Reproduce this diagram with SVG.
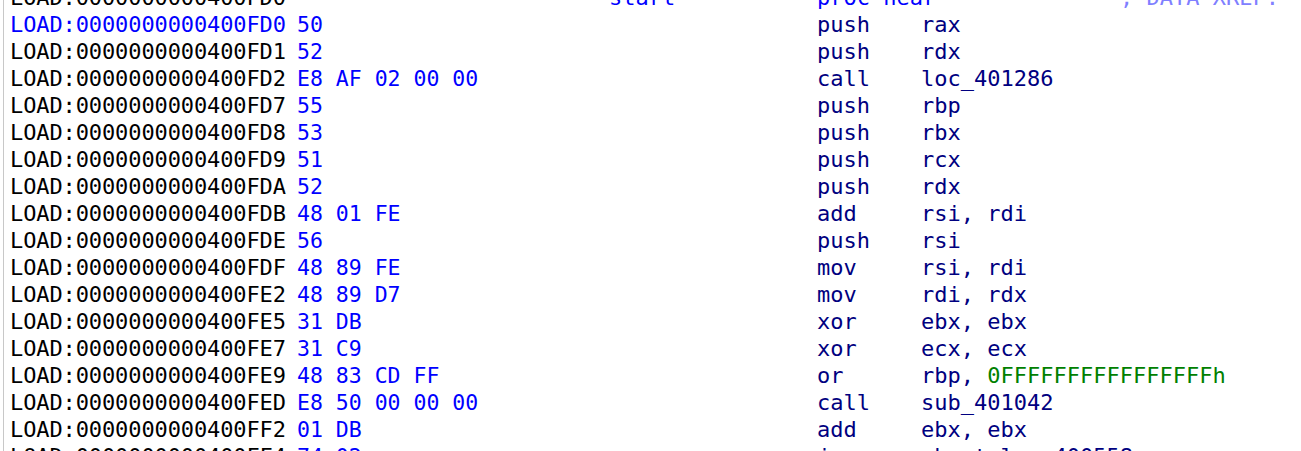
<svg xmlns="http://www.w3.org/2000/svg" width="1301" height="451" viewBox="0 0 1301 451">
<style>
text{font-family:"DejaVu Sans Mono","Liberation Mono",monospace;font-size:22px;white-space:pre}
.a{fill:#000}.b{fill:#0000ff}.i{fill:#000080}.g{fill:#008000}.c{fill:#8080ff}
#bytes text{font-size:21.5px}
</style>
<rect width="1301" height="451" fill="#fff"/>
<line x1="3.5" y1="0" x2="3.5" y2="451" stroke="#c8c8c8" stroke-width="1"/>
<g id="addr" class="a">
<text x="10" y="5" textLength="276">LOAD:0000000000400FD0</text>
<text x="10" y="32" class="b" textLength="276">LOAD:0000000000400FD0</text>
<text x="10" y="59" textLength="276">LOAD:0000000000400FD1</text>
<text x="10" y="86" textLength="276">LOAD:0000000000400FD2</text>
<text x="10" y="113" textLength="276">LOAD:0000000000400FD7</text>
<text x="10" y="140" textLength="276">LOAD:0000000000400FD8</text>
<text x="10" y="167" textLength="276">LOAD:0000000000400FD9</text>
<text x="10" y="194" textLength="276">LOAD:0000000000400FDA</text>
<text x="10" y="221" textLength="276">LOAD:0000000000400FDB</text>
<text x="10" y="248" textLength="276">LOAD:0000000000400FDE</text>
<text x="10" y="275" textLength="276">LOAD:0000000000400FDF</text>
<text x="10" y="302" textLength="276">LOAD:0000000000400FE2</text>
<text x="10" y="329" textLength="276">LOAD:0000000000400FE5</text>
<text x="10" y="356" textLength="276">LOAD:0000000000400FE7</text>
<text x="10" y="383" textLength="276">LOAD:0000000000400FE9</text>
<text x="10" y="410" textLength="276">LOAD:0000000000400FED</text>
<text x="10" y="437" textLength="276">LOAD:0000000000400FF2</text>
<text x="10" y="464" textLength="276">LOAD:0000000000400FF4</text>
</g>
<g id="bytes" class="b">
<text x="297" y="32">50</text>
<text x="297" y="59">52</text>
<text x="297" y="86">E8 AF 02 00 00</text>
<text x="297" y="113">55</text>
<text x="297" y="140">53</text>
<text x="297" y="167">51</text>
<text x="297" y="194">52</text>
<text x="297" y="221">48 01 FE</text>
<text x="297" y="248">56</text>
<text x="297" y="275">48 89 FE</text>
<text x="297" y="302">48 89 D7</text>
<text x="297" y="329">31 DB</text>
<text x="297" y="356">31 C9</text>
<text x="297" y="383">48 83 CD FF</text>
<text x="297" y="410">E8 50 00 00 00</text>
<text x="297" y="437">01 DB</text>
<text x="297" y="464">74 02</text>
</g>
<g id="code" class="i">
<text x="609" y="5" class="b">start</text>
<text x="817" y="5" class="b">proc near</text>
<text x="1120" y="5" class="c">; DATA XREF: </text>
<text x="817" y="32">push</text><text x="921" y="32">rax</text>
<text x="817" y="59">push</text><text x="921" y="59">rdx</text>
<text x="817" y="86">call</text><text x="921" y="86">loc_401286</text>
<text x="817" y="113">push</text><text x="921" y="113">rbp</text>
<text x="817" y="140">push</text><text x="921" y="140">rbx</text>
<text x="817" y="167">push</text><text x="921" y="167">rcx</text>
<text x="817" y="194">push</text><text x="921" y="194">rdx</text>
<text x="817" y="221">add</text><text x="921" y="221">rsi, rdi</text>
<text x="817" y="248">push</text><text x="921" y="248">rsi</text>
<text x="817" y="275">mov</text><text x="921" y="275">rsi, rdi</text>
<text x="817" y="302">mov</text><text x="921" y="302">rdi, rdx</text>
<text x="817" y="329">xor</text><text x="921" y="329">ebx, ebx</text>
<text x="817" y="356">xor</text><text x="921" y="356">ecx, ecx</text>
<text x="817" y="383">or</text><text x="921" y="383">rbp, <tspan class="g">0FFFFFFFFFFFFFFFFh</tspan></text>
<text x="817" y="410">call</text><text x="921" y="410">sub_401042</text>
<text x="817" y="437">add</text><text x="921" y="437">ebx, ebx</text>
<text x="817" y="464">jz</text><text x="921" y="464">short loc_400558</text>
</g>
</svg>
